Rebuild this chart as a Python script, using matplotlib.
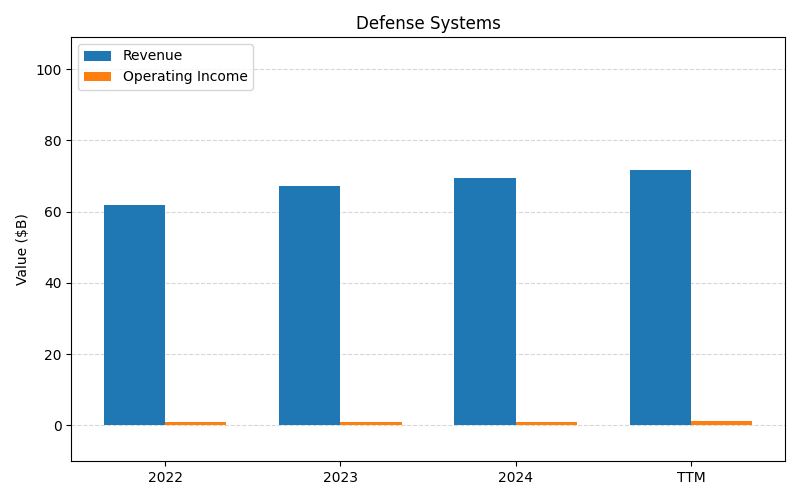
import numpy as np
import matplotlib.pyplot as plt

periods = ['2022', '2023', '2024', 'TTM']
revenue = [61.9, 67.2, 69.4, 71.8]
operating_income = [0.9, 0.9, 0.9, 1.2]

fig, ax = plt.subplots(1, 1)
fig.set_size_inches(8, 5)

x = np.arange(len(periods))
width = 0.35
ax.bar(x - width / 2, revenue, width, label='Revenue', color='#1f77b4', zorder=2)
ax.bar(x + width / 2, operating_income, width, label='Operating Income', color='#ff7f0e', zorder=2)

ax.set_xticks(x)
ax.set_xticklabels(periods)
ax.set_ylim(-10, 109)
ax.set_ylabel('Value ($B)')
ax.set_title('Defense Systems')
ax.grid(axis='y', linestyle='--', alpha=0.5, zorder=0)
ax.legend(loc='upper left')

plt.subplots_adjust(left=0.089, right=0.981, top=0.926, bottom=0.078)
plt.savefig('out.png', dpi=100)
